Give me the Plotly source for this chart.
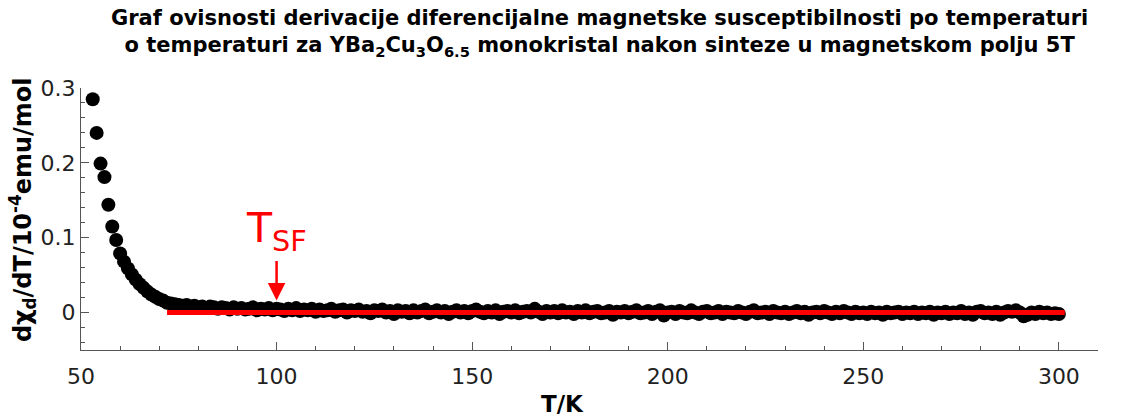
import plotly.graph_objects as go

# Temperature grid (K) and derivative of the differential susceptibility
temperature = list(range(53, 301))
dchi_dT = [
    0.285, 0.240, 0.199, 0.181, 0.144, 0.115, 0.097, 0.079,
    0.068, 0.059, 0.051, 0.044, 0.038, 0.033, 0.028, 0.024, 0.021, 0.018,
    0.016, 0.013, 0.012, 0.011, 0.010, 0.009, 0.010, 0.008, 0.009, 0.007,
    0.008, 0.006, 0.008, 0.007, 0.005, 0.007, 0.006, 0.004, 0.007, 0.005,
    0.006, 0.004, 0.005, 0.007, 0.003, 0.005, 0.004, 0.006, 0.003, 0.005,
    0.004, 0.002, 0.005, 0.003, 0.006, 0.002, 0.004, 0.003, 0.005, 0.001,
    0.004, 0.002, 0.003, 0.005, 0.001, 0.003, 0.004, 0.000, 0.003, 0.002,
    0.004, 0.001, 0.002, -0.001, 0.003, 0.002, 0.004, 0.000, 0.002, -0.002,
    0.003, 0.001, 0.002, -0.001, 0.003, 0.000, 0.002, 0.004, -0.001, 0.001,
    0.003, 0.000, 0.002, -0.002, 0.001, 0.003, 0.000, 0.002, -0.001, 0.002,
    0.004, 0.001, -0.001, 0.002, 0.000, 0.003, -0.002, 0.001, 0.002, 0.000,
    0.003, -0.001, 0.001, 0.002, 0.000, 0.005, 0.001, -0.002, 0.002, 0.000,
    0.002, -0.001, 0.003, 0.000, 0.001, -0.002, 0.002, 0.000, 0.003, -0.001,
    0.001, 0.002, -0.001, 0.000, 0.002, -0.003, 0.001, 0.000, 0.002, -0.001,
    0.001, 0.003, -0.001, 0.000, 0.002, -0.002, 0.001, 0.003, -0.004, 0.000,
    0.001, -0.002, 0.002, 0.000, -0.001, 0.003, 0.000, -0.002, 0.001, 0.002,
    -0.001, 0.000, 0.002, -0.002, 0.001, 0.000, -0.001, 0.002, 0.000, -0.002,
    0.001, 0.003, -0.001, 0.000, 0.001, -0.002, 0.002, 0.000, -0.001, 0.001,
    -0.002, 0.000, 0.002, -0.001, 0.001, -0.003, 0.000, 0.001, -0.001, 0.002,
    0.000, -0.002, 0.001, -0.001, 0.002, 0.000, -0.002, 0.001, -0.001, 0.000,
    -0.002, 0.001, -0.001, 0.000, -0.003, 0.001, -0.001, 0.000, 0.001, -0.002,
    0.000, -0.001, 0.001, -0.002, 0.000, -0.001, 0.001, -0.003, 0.000, -0.001,
    0.001, -0.002, 0.000, -0.001, 0.002, -0.002, 0.000, -0.003, 0.001, 0.002,
    -0.001, 0.000, -0.002, 0.001, -0.003, 0.000, 0.002, 0.001, 0.003, 0.000,
    -0.005, -0.003, 0.000, -0.002, 0.001, -0.001, 0.000, -0.002, -0.001, -0.002,
]

# Baseline (zero level) drawn across the flat part
baseline_T = [72, 301.5]
baseline_y = [0, 0]

# Spin-flop temperature marker
T_sf = 100
arrow_tail = 0.071
arrow_tip = 0.016

title_text = ("Graf ovisnosti derivacije diferencijalne magnetske susceptibilnosti po temperaturi<br>"
              "o temperaturi za YBa<sub>2</sub>Cu<sub>3</sub>O<sub>6.5</sub> monokristal nakon sinteze u magnetskom polju 5T")
y_title = "dχ<sub>d</sub>/dT/10<sup>-4</sup>emu/mol"
x_title = "T/K"

FONT = "DejaVu Sans"
AXIS_COLOR = "#555555"
RED = "#ff0000"

fig = go.Figure()
fig.add_trace(go.Scatter(
    x=temperature, y=dchi_dT, mode="markers",
    marker=dict(color="black", size=14, line=dict(width=0)),
    cliponaxis=False, showlegend=False,
))
fig.add_trace(go.Scatter(
    x=baseline_T, y=baseline_y, mode="lines",
    line=dict(color=RED, width=5), showlegend=False,
))

fig.add_annotation(
    x=T_sf, y=arrow_tip, ax=T_sf, ay=arrow_tail, xref="x", yref="y",
    axref="x", ayref="y", text="", showarrow=True,
    arrowhead=2, arrowsize=1.4, arrowwidth=2.5, arrowcolor=RED,
)
fig.add_annotation(
    x=T_sf, y=0.109, xref="x", yref="y", text="T<sub>SF</sub>",
    showarrow=False, font=dict(family=FONT, size=41, color=RED),
    xanchor="center", yanchor="middle",
)

fig.add_annotation(
    x=0.51, y=1.32, xref="paper", yref="paper", text="<b>" + title_text + "</b>",
    showarrow=False, font=dict(family=FONT, size=21, color="black"),
    xanchor="center", yanchor="top", align="center",
)
fig.add_annotation(
    x=-0.058, y=0.534, xref="paper", yref="paper", text="<b>" + y_title + "</b>",
    showarrow=False, textangle=-90, font=dict(family=FONT, size=24, color="black"),
    xanchor="center", yanchor="middle",
)
fig.add_annotation(
    x=0.473, y=-0.205, xref="paper", yref="paper", text="<b>" + x_title + "</b>",
    showarrow=False, font=dict(family=FONT, size=23, color="black"),
    xanchor="center", yanchor="middle",
)

fig.update_xaxes(
    range=[50, 310], tickmode="linear", tick0=50, dtick=50,
    ticks="inside", ticklen=8, tickwidth=1, tickcolor=AXIS_COLOR,
    showline=True, linecolor=AXIS_COLOR, linewidth=1,
    showgrid=False, zeroline=False, ticklabelstandoff=7,
    tickfont=dict(family=FONT, size=22, color="#222222"),
    minor=dict(dtick=10, tick0=50, ticks="inside", ticklen=4, tickcolor=AXIS_COLOR, showgrid=False),
)
fig.update_yaxes(
    range=[-0.05, 0.3], tickvals=[0, 0.1, 0.2, 0.3], ticktext=["0", "0.1", "0.2", "0.3"],
    ticks="inside", ticklen=8, tickwidth=1, tickcolor=AXIS_COLOR,
    showline=True, linecolor=AXIS_COLOR, linewidth=1,
    showgrid=False, zeroline=False,
    tickfont=dict(family=FONT, size=22, color="#222222"),
    minor=dict(dtick=0.02, tick0=0, ticks="inside", ticklen=4, tickcolor=AXIS_COLOR, showgrid=False),
)

fig.update_layout(
    width=1121, height=416,
    margin=dict(l=81, r=23, t=88, b=66),
    paper_bgcolor="white", plot_bgcolor="white",
    font=dict(family=FONT),
)

fig.write_html("out.html")
